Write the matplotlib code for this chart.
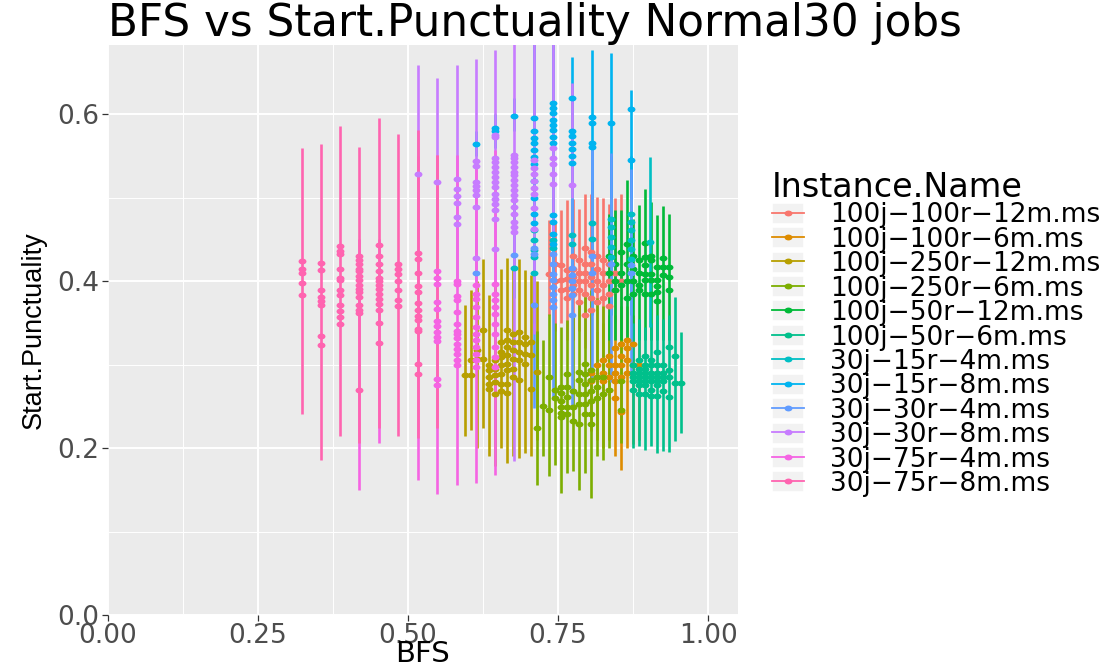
import matplotlib
matplotlib.use("Agg")
import matplotlib.pyplot as plt
from matplotlib.path import Path
from matplotlib.markers import MarkerStyle
from matplotlib.transforms import Affine2D
from matplotlib.lines import Line2D
from matplotlib.patches import Rectangle
from matplotlib.legend_handler import HandlerLine2D

plt.rcParams['font.family'] = ['DejaVu Sans']

# ---------------------------------------------------------------- data
instances = ["100j-100r-12m.ms", "100j-100r-6m.ms", "100j-250r-12m.ms",
             "100j-250r-6m.ms", "100j-50r-12m.ms", "100j-50r-6m.ms",
             "30j-15r-4m.ms", "30j-15r-8m.ms", "30j-30r-4m.ms",
             "30j-30r-8m.ms", "30j-75r-4m.ms", "30j-75r-8m.ms"]
palette = ['#F8766D', '#DE8C00', '#B79F00', '#7CAE00', '#00BA38', '#00C08B',
           '#00BFC4', '#00B4F0', '#619CFF', '#C77CFF', '#F564E3', '#FF64B0']

# 100j-100r-12m
bfs_a = [0.735, 0.745, 0.755, 0.765, 0.775, 0.785, 0.795, 0.805, 0.815, 0.825, 0.835, 0.845, 0.855]
lo_a = [0.36, 0.34, 0.35, 0.33, 0.33, 0.34, 0.32, 0.33, 0.34, 0.33, 0.34, 0.35, 0.35]
hi_a = [0.473, 0.47, 0.485, 0.497, 0.499, 0.487, 0.505, 0.505, 0.501, 0.50, 0.493, 0.50, 0.505]
pts_a = [[0.409], [0.42, 0.40], [0.419, 0.401, 0.39], [0.413, 0.403, 0.391, 0.38],
         [0.43, 0.415, 0.405, 0.395, 0.385], [0.425, 0.41, 0.40, 0.39, 0.375],
         [0.44, 0.42, 0.41, 0.40, 0.385, 0.36], [0.435, 0.42, 0.405, 0.395, 0.38, 0.365],
         [0.43, 0.415, 0.40, 0.39, 0.375], [0.425, 0.41, 0.395, 0.38],
         [0.42, 0.40, 0.385, 0.37], [0.41, 0.39], [0.40]]

# 100j-100r-6m
bfs_b = [0.805, 0.815, 0.825, 0.835, 0.845, 0.855, 0.865, 0.875, 0.885]
lo_b = [0.22, 0.21, 0.20, 0.21, 0.19, 0.174, 0.20, 0.205, 0.21]
hi_b = [0.33, 0.34, 0.35, 0.35, 0.36, 0.36, 0.37, 0.36, 0.35]
pts_b = [[0.29, 0.28], [0.30, 0.285], [0.305, 0.29, 0.28], [0.31, 0.30, 0.285, 0.27],
         [0.32, 0.30, 0.29, 0.28, 0.26], [0.325, 0.31, 0.30, 0.285, 0.243],
         [0.33, 0.32, 0.305, 0.29], [0.325, 0.30], [0.30]]

# 100j-250r-12m
bfs_c = [0.595, 0.605, 0.615, 0.625, 0.635, 0.645, 0.655, 0.665, 0.675, 0.685, 0.695, 0.705, 0.715]
lo_c = [0.214, 0.222, 0.20, 0.224, 0.190, 0.178, 0.200, 0.182, 0.190, 0.188, 0.194, 0.190, 0.21]
hi_c = [0.371, 0.390, 0.40, 0.426, 0.383, 0.40, 0.414, 0.428, 0.417, 0.427, 0.413, 0.407, 0.40]
pts_c = [[0.287], [0.306, 0.287], [0.318, 0.307], [0.341, 0.307],
         [0.299, 0.293, 0.285, 0.277, 0.271], [0.305, 0.295, 0.288, 0.279, 0.265],
         [0.327, 0.315, 0.309, 0.299, 0.289, 0.277, 0.269],
         [0.341, 0.329, 0.321, 0.311, 0.301, 0.293, 0.277, 0.266],
         [0.337, 0.327, 0.317, 0.307, 0.295, 0.285], [0.339, 0.327, 0.315, 0.305, 0.281],
         [0.333, 0.325, 0.313, 0.301], [0.327, 0.311, 0.271], [0.291]]

# 100j-250r-6m
bfs_d = [0.715, 0.725, 0.735, 0.745, 0.755, 0.765, 0.775, 0.785, 0.795, 0.805, 0.815, 0.825, 0.835, 0.855]
lo_d = [0.156, 0.19, 0.166, 0.18, 0.146, 0.170, 0.172, 0.150, 0.170, 0.140, 0.190, 0.186, 0.20, 0.206]
hi_d = [0.34, 0.33, 0.361, 0.35, 0.345, 0.353, 0.36, 0.377, 0.385, 0.39, 0.38, 0.37, 0.36, 0.37]
pts_d = [[0.224], [0.25], [0.285, 0.246], [0.27, 0.26],
         [0.273, 0.266, 0.257, 0.249, 0.242, 0.237], [0.289, 0.273, 0.261, 0.249, 0.241],
         [0.269, 0.249, 0.233], [0.291, 0.281, 0.265, 0.253, 0.229],
         [0.301, 0.289, 0.277, 0.265, 0.253, 0.241], [0.293, 0.281, 0.269, 0.257, 0.241, 0.229],
         [0.285, 0.273, 0.26], [0.285, 0.265], [0.27], [0.280, 0.246]]

# 100j-50r-12m
bfs_e = [0.835, 0.845, 0.855, 0.865, 0.875, 0.885, 0.895, 0.905, 0.915, 0.925, 0.935]
lo_e = [0.33, 0.33, 0.33, 0.33, 0.33, 0.33, 0.33, 0.33, 0.33, 0.33, 0.33]
hi_e = [0.48, 0.485, 0.485, 0.521, 0.475, 0.491, 0.511, 0.495, 0.479, 0.490, 0.480]
pts_e = [[0.43, 0.41], [0.42, 0.40, 0.39], [0.435, 0.41, 0.395], [0.445, 0.42, 0.40, 0.38],
         [0.43, 0.415, 0.40, 0.385], [0.425, 0.41, 0.395, 0.39],
         [0.446, 0.429, 0.419, 0.409, 0.401, 0.385], [0.43, 0.425, 0.409, 0.401, 0.385],
         [0.417, 0.401, 0.394, 0.387, 0.376], [0.428, 0.417, 0.407], [0.417, 0.405, 0.389]]

# 100j-50r-6m
bfs_f = [0.875, 0.885, 0.895, 0.905, 0.915, 0.925, 0.935, 0.945, 0.955]
lo_f = [0.200, 0.202, 0.198, 0.202, 0.194, 0.196, 0.195, 0.208, 0.218]
hi_f = [0.35, 0.355, 0.345, 0.35, 0.36, 0.355, 0.36, 0.381, 0.339]
pts_f = [[0.30, 0.29, 0.285, 0.28, 0.27], [0.305, 0.295, 0.29, 0.285, 0.28, 0.275, 0.265],
         [0.31, 0.30, 0.295, 0.29, 0.285, 0.28, 0.275, 0.265],
         [0.305, 0.30, 0.29, 0.285, 0.28, 0.27, 0.262],
         [0.315, 0.30, 0.29, 0.285, 0.28, 0.275, 0.262], [0.30, 0.29, 0.285, 0.28, 0.268],
         [0.321, 0.293, 0.285, 0.261], [0.310, 0.278], [0.278]]

# 30j-15r-4m
bfs_g = [0.677, 0.710, 0.742, 0.774, 0.806, 0.839, 0.871, 0.903]
lo_g = [0.38, 0.35, 0.38, 0.38, 0.36, 0.36, 0.36, 0.345]
hi_g = [0.50, 0.52, 0.50, 0.50, 0.52, 0.55, 0.55, 0.549]
pts_g = [[0.416], [0.461, 0.449, 0.437, 0.429, 0.41], [0.449, 0.44], [0.455, 0.445],
         [0.47, 0.45], [0.475, 0.465, 0.453, 0.441, 0.429],
         [0.481, 0.471, 0.461, 0.449, 0.439, 0.427], [0.447]]

# 30j-15r-8m
bfs_h = [0.613, 0.645, 0.677, 0.710, 0.742, 0.774, 0.806, 0.839, 0.871]
lo_h = [0.55, 0.56, 0.58, 0.46, 0.44, 0.50, 0.50, 0.50, 0.50]
hi_h = [0.58, 0.60, 0.62, 0.70, 0.70, 0.669, 0.677, 0.673, 0.629]
pts_h = [[0.564], [0.584, 0.580], [0.598],
         [0.595, 0.580, 0.572, 0.565, 0.557, 0.549, 0.540, 0.520, 0.500, 0.480, 0.470],
         [0.613, 0.607, 0.601, 0.593, 0.587, 0.581, 0.573, 0.565, 0.479, 0.471, 0.457, 0.445],
         [0.620, 0.580, 0.574, 0.566, 0.558, 0.550, 0.542], [0.597, 0.590, 0.565, 0.561],
         [0.589], [0.606, 0.545]]

# 30j-30r-4m
bfs_i = [0.613, 0.677, 0.710, 0.742, 0.774, 0.806, 0.839, 0.871]
lo_i = [0.40, 0.40, 0.248, 0.261, 0.251, 0.279, 0.279, 0.285]
hi_i = [0.45, 0.46, 0.45, 0.45, 0.50, 0.56, 0.553, 0.535]
pts_i = [[0.410], [0.431], [0.440, 0.432, 0.372],
         [0.433, 0.420, 0.409, 0.401, 0.393, 0.385, 0.377, 0.369],
         [0.416, 0.408, 0.400, 0.392, 0.384, 0.360], [0.43, 0.41], [0.42], [0.419, 0.41]]

# 30j-30r-8m
bfs_j = [0.516, 0.548, 0.581, 0.613, 0.645, 0.677, 0.710, 0.742, 0.774]
lo_j = [0.45, 0.45, 0.40, 0.40, 0.40, 0.184, 0.337, 0.45, 0.50]
hi_j = [0.659, 0.644, 0.659, 0.666, 0.677, 0.70, 0.70, 0.70, 0.637]
pts_j = [[0.529], [0.519], [0.522, 0.511, 0.502, 0.494, 0.477, 0.469],
         [0.544, 0.538, 0.519, 0.514, 0.509, 0.503, 0.489, 0.428],
         [0.575, 0.573, 0.547, 0.543, 0.537, 0.531, 0.525, 0.519, 0.513, 0.505, 0.499,
          0.493, 0.485, 0.475, 0.439],
         [0.551, 0.547, 0.543, 0.537, 0.531, 0.527, 0.521, 0.515, 0.509, 0.503, 0.497,
          0.489, 0.481, 0.471, 0.465, 0.459],
         [0.545, 0.536, 0.528, 0.520, 0.512, 0.504, 0.488, 0.462],
         [0.559, 0.547, 0.541, 0.529, 0.517], [0.515]]

# 30j-75r-4m
bfs_k = [0.419, 0.452, 0.516, 0.548, 0.581, 0.613, 0.645]
lo_k = [0.150, 0.206, 0.162, 0.145, 0.156, 0.158, 0.168]
hi_k = [0.45, 0.45, 0.55, 0.551, 0.551, 0.537, 0.557]
pts_k = [[], [], [],
         [0.412, 0.404, 0.397, 0.375, 0.367, 0.352, 0.346, 0.339, 0.333, 0.328, 0.283, 0.275],
         [0.400, 0.397, 0.382, 0.377, 0.363, 0.349, 0.340, 0.337, 0.332, 0.325, 0.319,
          0.313, 0.305, 0.299],
         [0.395, 0.385, 0.379, 0.369, 0.357, 0.345, 0.337, 0.329, 0.321, 0.313, 0.305, 0.297],
         [0.397, 0.385, 0.377, 0.369, 0.361, 0.349, 0.337, 0.321, 0.309, 0.297]]

# 30j-75r-8m
bfs_l = [0.323, 0.355, 0.387, 0.419, 0.452, 0.484, 0.516, 0.548]
lo_l = [0.241, 0.186, 0.215, 0.206, 0.224, 0.215, 0.212, 0.224]
hi_l = [0.560, 0.564, 0.586, 0.561, 0.595, 0.576, 0.581, 0.551]
pts_l = [[0.424, 0.415, 0.410, 0.398, 0.384],
         [0.422, 0.413, 0.390, 0.381, 0.376, 0.371, 0.334, 0.324],
         [0.442, 0.436, 0.432, 0.415, 0.404, 0.401, 0.390, 0.383, 0.372, 0.364, 0.357, 0.349],
         [0.430, 0.425, 0.420, 0.415, 0.412, 0.406, 0.401, 0.396, 0.391, 0.387, 0.381,
          0.371, 0.366, 0.362, 0.270],
         [0.443, 0.430, 0.420, 0.412, 0.404, 0.400, 0.395, 0.391, 0.385, 0.379, 0.373,
          0.365, 0.350, 0.326],
         [0.420, 0.415, 0.409, 0.400, 0.389, 0.378, 0.370],
         [0.434, 0.426, 0.410, 0.394, 0.387, 0.374, 0.365, 0.358, 0.353, 0.343, 0.340,
          0.301, 0.289],
         []]

series = [(bfs_a, lo_a, hi_a, pts_a), (bfs_b, lo_b, hi_b, pts_b), (bfs_c, lo_c, hi_c, pts_c),
          (bfs_d, lo_d, hi_d, pts_d), (bfs_e, lo_e, hi_e, pts_e), (bfs_f, lo_f, hi_f, pts_f),
          (bfs_g, lo_g, hi_g, pts_g), (bfs_h, lo_h, hi_h, pts_h), (bfs_i, lo_i, hi_i, pts_i),
          (bfs_j, lo_j, hi_j, pts_j), (bfs_k, lo_k, hi_k, pts_k), (bfs_l, lo_l, hi_l, pts_l)]

x_ticks = [0.0, 0.25, 0.5, 0.75, 1.0]
x_tick_labels = ["0.00", "0.25", "0.50", "0.75", "1.00"]
y_ticks = [0.0, 0.2, 0.4, 0.6]
y_tick_labels = ["0.0", "0.2", "0.4", "0.6"]

# ---------------------------------------------------------------- figure
W, H = 1114, 669
fig = plt.figure(figsize=(W / 100, H / 100), dpi=100)
ax = fig.add_axes([108 / W, 1 - 615 / H, 630 / W, 570 / H])
ax.set_facecolor('#EBEBEB')
for s in ax.spines.values():
    s.set_visible(False)

ax.set_xlim(0, 1.05)
ax.set_ylim(0, 0.683)

# slightly flattened dots
dot = MarkerStyle(Path.unit_circle().transformed(Affine2D().scale(1.35, 1.0)))

for (xs, lo, hi, _), col in zip(series, palette):
    ax.vlines(xs, lo, hi, colors=col, linewidth=1.9, zorder=2)

for (xs, _, _, pts), col in zip(series, palette):
    px, py = [], []
    for x, ys in zip(xs, pts):
        px += [x] * len(ys)
        py += ys
    ax.plot(px, py, linestyle='none', marker=dot, markersize=5.7,
            color=col, markeredgewidth=0, zorder=3)

# grid
ax.set_xticks(x_ticks)
ax.set_xticklabels(x_tick_labels)
ax.set_yticks(y_ticks)
ax.set_yticklabels(y_tick_labels)
ax.set_xticks([0.125, 0.375, 0.625, 0.875], minor=True)
ax.set_yticks([0.1, 0.3, 0.5], minor=True)
ax.set_axisbelow(True)
ax.grid(which='major', color='white', linewidth=1.4)
ax.grid(which='minor', color='white', linewidth=0.7)
ax.tick_params(which='major', length=4, width=0.9, color='#333333',
               labelcolor='#4D4D4D', labelsize=19, pad=2)
ax.tick_params(which='minor', length=0)

ax.set_title("BFS vs Start.Punctuality Normal30 jobs", loc='left',
             fontsize=31.5, pad=6, color='black')
ax.set_xlabel("BFS", fontsize=21, color='black', va='baseline')
ax.xaxis.set_label_coords(0.5, (615 - 662) / 570)
ax.set_ylabel("Start.Punctuality", fontsize=19.5, family='Liberation Sans',
              color='black')
ax.yaxis.set_label_coords(-0.098, 0.5)


class KeyHandler(HandlerLine2D):
    def create_artists(self, legend, orig_handle, xdescent, ydescent,
                       width, height, fontsize, trans):
        arts = super().create_artists(legend, orig_handle, xdescent, ydescent,
                                      width, height, fontsize, trans)
        bg = Rectangle((-xdescent, -ydescent), width, height,
                       facecolor='#F2F2F2', edgecolor='white', linewidth=1.2,
                       transform=trans)
        return [bg] + list(arts)


handles = [Line2D([], [], color=c, linewidth=1.3, marker=dot, markersize=5.7,
                  markeredgewidth=0) for c in palette]
labels = [n.replace('-', '\u2212') for n in instances]
leg = fig.legend(handles, labels, title="Instance.Name", loc='upper left',
                 bbox_to_anchor=(772 / W, 1 - 171 / H), frameon=False,
                 fontsize=19, title_fontsize=24, alignment='left',
                 handlelength=1.21, handleheight=0.85, handletextpad=0.98,
                 labelspacing=-0.06, borderpad=0, borderaxespad=0, numpoints=1,
                 handler_map={Line2D: KeyHandler(numpoints=1)})

fig.savefig("out.png", dpi=100)
